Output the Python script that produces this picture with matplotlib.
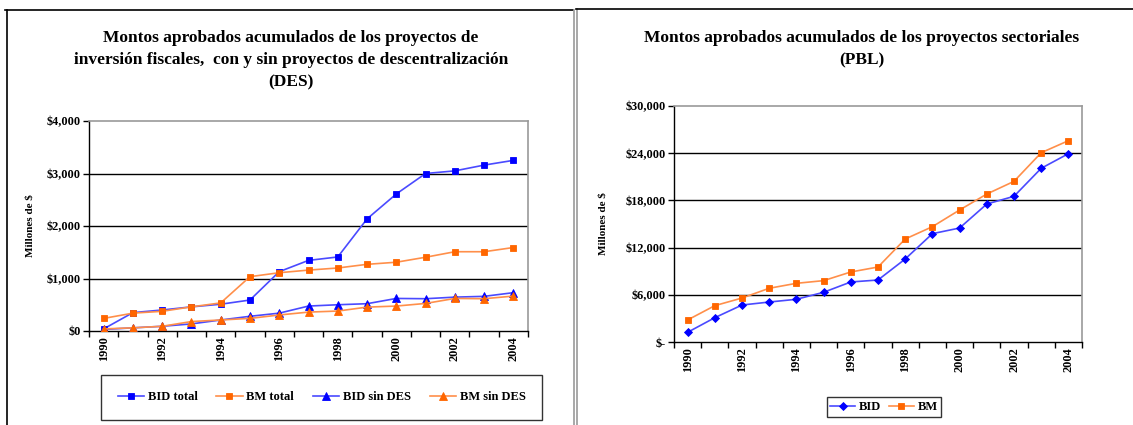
import matplotlib
matplotlib.use("Agg")
import matplotlib.pyplot as plt
from matplotlib.lines import Line2D
from matplotlib.ticker import FixedLocator, FuncFormatter

plt.rcParams['font.family'] = ['Liberation Serif', 'DejaVu Serif']

# ---- data -------------------------------------------------------------
years = list(range(1990, 2005))

# cumulative approved amounts, investment projects (millions of $)
bid_total = [40, 350, 400, 460, 510, 590, 1130, 1345, 1410, 2135, 2610, 3000, 3050, 3160, 3250]
bm_total = [240, 340, 375, 460, 535, 1035, 1110, 1160, 1200, 1270, 1310, 1405, 1510, 1510, 1590]
bid_sin_des = [30, 60, 90, 135, 210, 280, 340, 475, 500, 520, 620, 615, 645, 660, 730]
bm_sin_des = [40, 60, 90, 180, 210, 240, 305, 360, 380, 455, 475, 525, 620, 615, 665]

# cumulative approved amounts, sectoral projects (millions of $)
bid_pbl = [1230, 3090, 4700, 5080, 5430, 6320, 7630, 7880, 10550, 13770, 14490, 17540, 18520, 22080, 23940]
bm_pbl = [2800, 4620, 5590, 6830, 7460, 7800, 8900, 9530, 13090, 14660, 16780, 18810, 20420, 24060, 25590]

left_ticks = [0, 1000, 2000, 3000, 4000]
right_ticks = [0, 6000, 12000, 18000, 24000, 30000]

left_title = ("Montos aprobados acumulados de los proyectos de\n"
              "inversión fiscales,  con y sin proyectos de descentralización\n"
              "(DES)")
right_title = "Montos aprobados acumulados de los proyectos sectoriales\n(PBL)"
ylabel = "Millones de $"

BLUE = "#0000FF"
BLUE_LINE = "#4A4AFF"
ORANGE = "#FF6600"
ORANGE_LINE = "#FF8F4A"
GRAY = "#9A9A9A"

W, H = 1133, 425
fig = plt.figure(figsize=(W / 100, H / 100), dpi=100)


def px_axes(x0, y0, x1, y1):
    return fig.add_axes([x0 / W, 1 - y1 / H, (x1 - x0) / W, (y1 - y0) / H])


def style_axes(ax, ticks, fmt):
    n = len(years)
    ax.set_xlim(-0.5, n - 0.5)
    ax.set_ylim(ticks[0], ticks[-1])
    for t in ticks[1:-1]:
        ax.axhline(t, color="black", lw=1.0, zorder=1)
    for side in ("left", "bottom"):
        ax.spines[side].set_color("black")
        ax.spines[side].set_linewidth(1.0)
    for side in ("top", "right"):
        ax.spines[side].set_color(GRAY)
        ax.spines[side].set_linewidth(1.2)
    ax.yaxis.set_major_locator(FixedLocator(ticks))
    ax.yaxis.set_major_formatter(FuncFormatter(fmt))
    ax.tick_params(axis="y", which="major", length=4, width=1, direction="out",
                   labelsize=8.8, pad=2)
    for lab in ax.get_yticklabels():
        lab.set_fontweight("bold")
    # category boundaries carry the tick marks, labels sit on every other year
    ax.xaxis.set_major_locator(FixedLocator([i - 0.5 for i in range(n + 1)]))
    ax.xaxis.set_major_formatter(FuncFormatter(lambda v, p: ""))
    ax.xaxis.set_minor_locator(FixedLocator(list(range(0, n, 2))))
    ax.xaxis.set_minor_formatter(FuncFormatter(lambda v, p: str(years[int(round(v))])))
    ax.tick_params(axis="x", which="major", length=4, width=1, direction="out")
    ax.tick_params(axis="x", which="minor", length=0, labelsize=8.8, pad=4,
                   labelrotation=90)
    for lab in ax.get_xticklabels(minor=True):
        lab.set_fontweight("bold")


def series(ax, values, line_color, marker_color, marker, ms, label):
    xs = list(range(len(values)))
    (line,) = ax.plot(xs, values, color=line_color, lw=1.2, zorder=3, label=label,
                      marker=marker, markersize=ms, markerfacecolor=marker_color,
                      markeredgecolor=marker_color, markeredgewidth=0.6)
    return line


# ---- left chart -------------------------------------------------------
axl = px_axes(89, 121, 528, 331)
style_axes(axl, left_ticks, lambda v, p: "${:,.0f}".format(v))
left_lines = [
    series(axl, bid_total, BLUE_LINE, BLUE, "s", 4.6, "BID total"),
    series(axl, bm_total, ORANGE_LINE, ORANGE, "s", 4.6, "BM total"),
    series(axl, bid_sin_des, BLUE_LINE, BLUE, "^", 5.2, "BID sin DES"),
    series(axl, bm_sin_des, ORANGE_LINE, ORANGE, "^", 5.2, "BM sin DES"),
]
fig.text(30 / W, 1 - 226 / H, ylabel, rotation=90, ha="center", va="center",
         fontsize=8, fontweight="bold")
fig.text(291 / W, 1 - 60 / H, left_title, ha="center", va="center",
         fontsize=12.5, fontweight="bold", linespacing=1.5)
legl = fig.legend(handles=left_lines, loc="center",
                  bbox_to_anchor=(321.5 / W, 1 - 397.5 / H), ncol=4,
                  frameon=True, fancybox=False, prop={"weight": "bold", "size": 9},
                  handlelength=2.1, handletextpad=0.3, columnspacing=1.5,
                  borderpad=1.3)
legl.get_frame().set_edgecolor("black")
legl.get_frame().set_linewidth(1.0)

# ---- right chart ------------------------------------------------------
axr = px_axes(674, 106, 1082, 342)


def money_fmt(v, p):
    return "$-" if v == 0 else "${:,.0f}".format(v)


style_axes(axr, right_ticks, money_fmt)
right_lines = [
    series(axr, bid_pbl, BLUE_LINE, BLUE, "D", 3.8, "BID"),
    series(axr, bm_pbl, ORANGE_LINE, ORANGE, "s", 4.6, "BM"),
]
fig.text(603 / W, 1 - 224 / H, ylabel, rotation=90, ha="center", va="center",
         fontsize=8, fontweight="bold")
fig.text(862 / W, 1 - 49 / H, right_title, ha="center", va="center",
         fontsize=12.5, fontweight="bold", linespacing=1.5)
legr = fig.legend(handles=right_lines, loc="center",
                  bbox_to_anchor=(884 / W, 1 - 407 / H), ncol=2,
                  frameon=True, fancybox=False, prop={"weight": "bold", "size": 9},
                  handlelength=2.0, handletextpad=0.3, columnspacing=0.6,
                  borderpad=0.3)
legr.get_frame().set_edgecolor("black")
legr.get_frame().set_linewidth(1.0)

# ---- panel frames -----------------------------------------------------
def fig_line(x0, y0, x1, y1, color, lw):
    fig.add_artist(Line2D([x0 / W, x1 / W], [1 - y0 / H, 1 - y1 / H],
                          transform=fig.transFigure, color=color, lw=lw))


fig_line(5, 10, 573, 10, "black", 1.2)
fig_line(7, 10, 7, 425, "black", 1.2)
fig_line(573.5, 10, 573.5, 425, GRAY, 1.2)
fig_line(576.5, 9, 576.5, 425, GRAY, 1.2)
fig_line(576, 9, 1133, 9, "black", 1.2)

fig.savefig("out.png", dpi=100)
